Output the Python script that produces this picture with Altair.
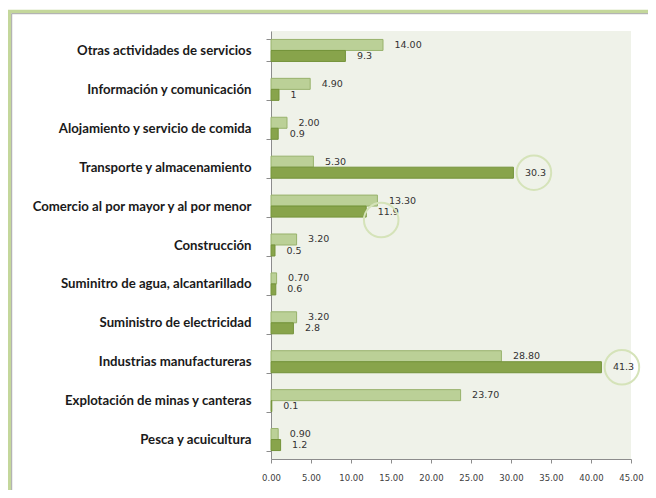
import altair as alt
import pandas as pd

categories = [
    "Otras actividades de servicios",
    "Información y comunicación",
    "Alojamiento y servicio de comida",
    "Transporte y almacenamiento",
    "Comercio al por mayor y al por menor",
    "Construcción",
    "Suminitro de agua, alcantarillado",
    "Suministro de electricidad",
    "Industrias manufactureras",
    "Explotación de minas y canteras",
    "Pesca y acuicultura",
]
series_names = ["Serie 1", "Serie 2"]
serie1 = [14.00, 4.90, 2.00, 5.30, 13.30, 3.20, 0.70, 3.20, 28.80, 23.70, 0.90]
serie2 = [9.3, 1, 0.9, 30.3, 11.9, 0.5, 0.6, 2.8, 41.3, 0.1, 1.2]
x_ticks = [0, 5, 10, 15, 20, 25, 30, 35, 40, 45]
highlight_main = ["Transporte y almacenamiento", "Industrias manufactureras"]
highlight_alt = ["Comercio al por mayor y al por menor"]

rows = []
for c, a, b in zip(categories, serie1, serie2):
    rows.append({"cat": c, "serie": series_names[0], "value": a, "label": f"{a:.2f}"})
    rows.append({"cat": c, "serie": series_names[1], "value": b, "label": f"{b:g}"})
df = pd.DataFrame(rows)
df_main = df[(df.serie == series_names[1]) & (df.cat.isin(highlight_main))]
df_alt = df[(df.serie == series_names[1]) & (df.cat.isin(highlight_alt))]

W, H = 360, 428

y_enc = alt.Y(
    "cat:N",
    sort=categories,
    scale=alt.Scale(paddingInner=0.434, paddingOuter=0.217),
    axis=alt.Axis(
        title=None,
        tickBand="extent",
        tickExtra=True,
        tickSize=5,
        tickColor="#8c8c8c",
        domainColor="#8c8c8c",
        labelFont="Lato",
        labelFontSize=13.2,
        labelFontWeight="bold",
        labelColor="#1a1a1a",
        labelPadding=15,
        labelLimit=300,
    ),
)
x_enc = alt.X(
    "value:Q",
    scale=alt.Scale(domain=[0, 45], nice=False),
    axis=alt.Axis(
        title=None,
        values=x_ticks,
        format=".2f",
        grid=False,
        labelOverlap=False,
        labelFlush=False,
        tickSize=4,
        tickColor="#8c8c8c",
        domainColor="#8c8c8c",
        labelFont="DejaVu Sans",
        labelFontSize=8.5,
        labelColor="#404040",
        labelPadding=10,
    ),
)
yoff = alt.YOffset("serie:N", sort=series_names, scale=alt.Scale(paddingInner=0, paddingOuter=0))

base = alt.Chart(df)
bars = base.mark_bar(strokeWidth=1).encode(
    x=x_enc,
    y=y_enc,
    yOffset=yoff,
    color=alt.Color("serie:N", scale=alt.Scale(domain=series_names, range=["#bbd097", "#88a44b"]), legend=None),
    stroke=alt.Stroke("serie:N", scale=alt.Scale(domain=series_names, range=["#98b26c", "#74933a"]), legend=None),
)
texts = base.mark_text(align="left", baseline="middle", dx=11.5, font="DejaVu Sans", fontSize=9.5, color="#333333").encode(
    x=x_enc, y=y_enc, yOffset=yoff, text="label:N"
)
circ_main = alt.Chart(df_main).mark_point(
    shape="circle", filled=False, size=1195, strokeWidth=2, color="#d5e3b9", opacity=1, xOffset=20.5, yOffset=5.5
).encode(x=x_enc, y=y_enc)
circ_alt = alt.Chart(df_alt).mark_point(
    shape="circle", filled=False, size=1195, strokeWidth=2, color="#d5e3b9", opacity=1, xOffset=15, yOffset=14
).encode(x=x_enc, y=y_enc)

one = pd.DataFrame({"k": [0]})
frame_top = alt.Chart(one).mark_rule(color="#c4d79b", strokeWidth=3.5).encode(
    x=alt.value(-263), x2=alt.value(400), y=alt.value(-19.5)
)
frame_left = alt.Chart(one).mark_rule(color="#c4d79b", strokeWidth=3.5).encode(
    x=alt.value(-261.5), y=alt.value(-21), y2=alt.value(480)
)
shadow_top = alt.Chart(one).mark_rule(color="#a6a6a6", strokeWidth=1).encode(
    x=alt.value(-259.5), x2=alt.value(400), y=alt.value(-17.3)
)
shadow_left = alt.Chart(one).mark_rule(color="#a6a6a6", strokeWidth=1).encode(
    x=alt.value(-259.3), y=alt.value(-17.3), y2=alt.value(480)
)

chart = alt.layer(bars, texts, circ_main, circ_alt, frame_top, frame_left, shadow_top, shadow_left).properties(
    width=W, height=H,
    autosize=alt.AutoSizeParams(type="none"),
    padding={"left": 263, "top": 23, "right": 17, "bottom": 31},
    background="white",
).configure_view(fill="#eff2e9", stroke=None)

chart.save("out.html", embed_options={"renderer": "svg", "actions": False})
